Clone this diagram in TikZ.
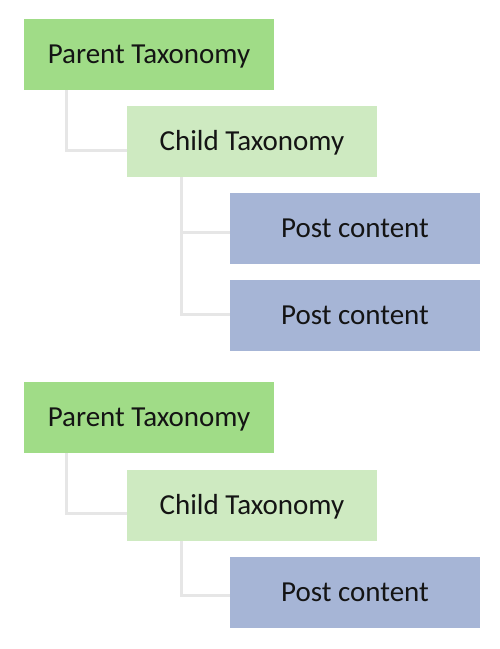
\documentclass[tikz,border=0pt]{standalone}
\usepackage{fontspec}
\setmainfont{Carlito}
\usetikzlibrary{calc}
\definecolor{parentgreen}{HTML}{A0DC87}
\definecolor{childgreen}{HTML}{CEEAC1}
\definecolor{postblue}{HTML}{A6B5D6}
\definecolor{linegray}{HTML}{E6E6E6}
\definecolor{txt}{HTML}{141414}
\tikzset{
  box/.style={rectangle, minimum width=250pt, minimum height=71pt, inner sep=0pt, text height=18.5pt, text depth=0pt, text=txt, font=\fontsize{29}{33}\selectfont},
  parentbox/.style={box, fill=parentgreen},
  childbox/.style={box, fill=childgreen},
  postbox/.style={box, fill=postblue},
  conn/.style={draw=linegray, line width=3pt}
}
\begin{document}
\begin{tikzpicture}[x=1pt,y=-1pt]
\useasboundingbox (0,0) rectangle (500,649);
% group 1
\node[parentbox] (p1) at (149,54.5) {Parent Taxonomy};
\node[childbox] (c1) at (252,141.5) {Child Taxonomy};
\node[postbox] (a1) at (355,228.5) {Post content};
\node[postbox] (a2) at (355,315.5) {Post content};
% group 2
\node[parentbox] (p2) at (149,417.5) {Parent Taxonomy};
\node[childbox] (c2) at (252,505.3) {Child Taxonomy};
\node[postbox] (a3) at (355,592.3) {Post content};
% connectors
\draw[conn] ($(p1.south west)+(43,0)$) |- ($(c1.west)+(0,8.5)$);
\draw[conn] ($(c1.south west)+(55,0)$) |- ($(a1.west)+(0,3.5)$);
\draw[conn] ($(c1.south west)+(55,0)$) |- ($(a2.west)+(0,-1.5)$);
\draw[conn] ($(p2.south west)+(43,0)$) |- ($(c2.west)+(0,8)$);
\draw[conn] ($(c2.south west)+(55,0)$) |- ($(a3.west)+(0,3)$);
\end{tikzpicture}
\end{document}
